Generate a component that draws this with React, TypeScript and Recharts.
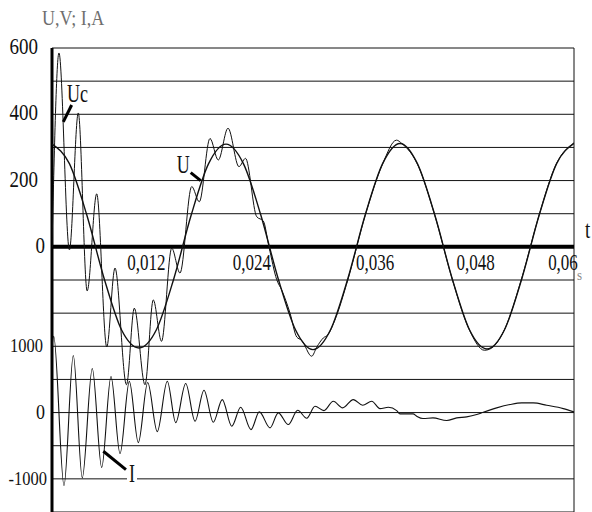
import React from 'react';
import {
  LineChart,
  Line,
  XAxis,
  YAxis,
  CartesianGrid,
  ReferenceLine,
  ReferenceDot,
} from 'recharts';

// axes
const X_GRID = [0, 0.006, 0.012, 0.018, 0.024, 0.03, 0.036, 0.042, 0.048, 0.054, 0.06];
const X_LABELS = [0.012, 0.024, 0.036, 0.048, 0.06];
const X_LABEL_TEXT = ['0,012', '0,024', '0,036', '0,048', '0,06'];
const X_LABEL_DX = [-10, -9, 10, 6, -11];

const V_DOMAIN = [-800, 600];
const V_GRID = [-800, -700, -600, -500, -400, -300, -200, -100, 0, 100, 200, 300, 400, 500, 600];
const V_LABELS = [0, 200, 400, 600];
const I_DOMAIN = [-1500, 5500];
const I_LABELS = [-1000, 0, 1000];

// source voltage U, V
const U_T = [
  0, 0.002, 0.004, 0.006, 0.008, 0.01, 0.012, 0.014, 0.016, 0.018, 0.02,
  0.022, 0.024, 0.026, 0.028, 0.03, 0.032, 0.034, 0.036, 0.038, 0.04,
  0.042, 0.044, 0.046, 0.048, 0.05, 0.052, 0.054, 0.056, 0.058, 0.06,
];
const U_V = [
  310, 251, 96, -96, -251, -305, -250, -96, 96, 251, 310,
  251, 96, -96, -251, -310, -251, -96, 96, 251, 312,
  251, 96, -96, -251, -308, -251, -96, 96, 251, 312,
];

// capacitor voltage Uc, V
const UC_T = [
  0, 0.0008, 0.002, 0.00302, 0.00404, 0.00514, 0.00629, 0.00724, 0.00856, 0.00946,
  0.01069, 0.01164, 0.01259, 0.01376, 0.01471, 0.01606, 0.01693, 0.01816, 0.01911, 0.02023,
  0.02149, 0.02224, 0.02353, 0.02429, 0.02494, 0.02583, 0.0264, 0.02736, 0.02813, 0.0287,
  0.02985, 0.03042, 0.03118, 0.03172, 0.0325, 0.034, 0.036, 0.038, 0.0396, 0.0402,
  0.042, 0.044, 0.046, 0.048, 0.0497, 0.0505, 0.052, 0.054, 0.056, 0.058, 0.06,
];
const UC_V = [
  0, 585, -9, 404, -133, 160, -302, -64, -416, -185,
  -416, -160, -285, -4, -79, 182, 136, 327, 262, 358,
  242, 267, 91, 78, 0, -99, -130, -200, -272, -282,
  -330, -303, -275, -265, -222, -100, 95, 250, 322, 312,
  250, 95, -97, -252, -312, -306, -250, -94, 97, 252, 314,
];

// current I, A
const I_T = [
  0, 0.0002, 0.00138, 0.00245, 0.00348, 0.00463, 0.00571, 0.00678, 0.00782, 0.00889,
  0.00992, 0.011, 0.0121, 0.01325, 0.01422, 0.01537, 0.01644, 0.01747, 0.01854, 0.01957,
  0.02066, 0.02169, 0.02287, 0.02383, 0.02506, 0.02601, 0.02716, 0.02824, 0.02928, 0.03023,
  0.03126, 0.03233, 0.03341, 0.03463, 0.03571, 0.03675, 0.0377, 0.03866, 0.03962, 0.04,
  0.0415, 0.04192, 0.04264, 0.04379, 0.04537, 0.04652, 0.04767, 0.04882, 0.04957, 0.05111,
  0.05264, 0.05399, 0.05532, 0.05686, 0.05877, 0.06,
];
const I_A = [
  1000, 1150, -1100, 860, -985, 665, -830, 545, -620, 470,
  -453, 453, -287, 473, -152, 438, -131, 337, -146, 196,
  -207, 80, -257, 10, -231, -5, -181, 35, -85, 95,
  30, 171, 71, 196, 110, 171, 60, 80, 30, -20,
  -20, -55, -90, -80, -120, -80, -65, -30, 5, 71,
  121, 146, 146, 110, 60, 10,
];

const uData = U_T.map((t, i) => ({ t, v: U_V[i] }));
const ucData = UC_T.map((t, i) => ({ t, v: UC_V[i] }));
const iData = I_T.map((t, i) => ({ t, a: I_A[i] }));

const FONT = '"Liberation Serif", "Times New Roman", serif';
const INK = '#111';
const AXIS_W = 52;

// both scales share one grid: value on the current scale at a voltage gridline
const vToI = (v: number) =>
  I_DOMAIN[0] + ((v - V_DOMAIN[0]) * (I_DOMAIN[1] - I_DOMAIN[0])) / (V_DOMAIN[1] - V_DOMAIN[0]);

function renderVTick(props: any) {
  const { y, payload } = props;
  const v = payload.value;
  let label: string | null = null;
  let end = AXIS_W - 7;
  let size = 19;
  if (V_LABELS.includes(v)) {
    label = String(v);
    if (v !== 0) end = AXIS_W - 14;
  } else {
    const a = Math.round(vToI(v));
    if (I_LABELS.includes(a)) {
      label = String(a);
      size = a === 0 ? 18 : 16.5;
    }
    if (a === -1000) end = AXIS_W - 5;
    if (a === 1000) end = AXIS_W - 9;
  }
  if (label === null) return <g key={`vt-${v}`} />;
  return (
    <text
      key={`vt-${v}`}
      transform={`translate(${end},${y + 6}) scale(1,1.2)`}
      textAnchor="end"
      fontFamily={FONT}
      fontSize={size}
      fill={INK}
    >
      {label}
    </text>
  );
}

const xLabelShape = (i: number) => (p: any) => (
  <text
    transform={`translate(${p.cx + X_LABEL_DX[i]},${p.cy + 23}) scale(1,1.4)`}
    textAnchor="middle"
    fontFamily={FONT}
    fontSize={17}
    fill={INK}
  >
    {X_LABEL_TEXT[i]}
  </text>
);

const noteShape = (text: string, boxed: boolean) => (p: any) => (
  <g>
    {boxed && <rect x={p.cx - 2} y={p.cy - 20} width={10} height={22} fill="#fff" />}
    <text
      transform={`translate(${p.cx},${p.cy}) scale(1,1.35)`}
      fontFamily={FONT}
      fontSize={18}
      fill={INK}
    >
      {text}
    </text>
  </g>
);

export default function App() {
  return (
    <div style={{ position: 'absolute', left: 0, top: 0, width: 592, height: 512, background: '#fff' }}>
      <LineChart width={592} height={512} margin={{ top: 48, right: 18, bottom: 0, left: 0 }}>
        <CartesianGrid yAxisId="v" stroke={INK} strokeWidth={1} fill="none" />
        <XAxis
          dataKey="t"
          type="number"
          domain={[0, 0.06]}
          ticks={X_GRID}
          allowDataOverflow
          height={0}
          tick={false}
          axisLine={false}
          tickLine={false}
        />
        <YAxis
          yAxisId="v"
          type="number"
          domain={V_DOMAIN}
          ticks={V_GRID}
          interval={0}
          allowDataOverflow
          width={AXIS_W}
          tickSize={0}
          tickMargin={0}
          tickLine={false}
          axisLine={false}
          tick={renderVTick}
        />
        <YAxis yAxisId="i" type="number" domain={I_DOMAIN} allowDataOverflow hide />

        <ReferenceLine yAxisId="v" y={0} stroke="#000" strokeWidth={4} />
        <ReferenceLine yAxisId="v" x={0} stroke="#000" strokeWidth={3} />

        <Line
          yAxisId="v"
          data={uData}
          dataKey="v"
          type="monotone"
          stroke={INK}
          strokeWidth={1.4}
          dot={false}
          isAnimationActive={false}
        />
        <Line
          yAxisId="v"
          data={ucData}
          dataKey="v"
          type="monotone"
          stroke={INK}
          strokeWidth={1}
          dot={false}
          isAnimationActive={false}
        />
        <Line
          yAxisId="i"
          data={iData}
          dataKey="a"
          type="monotone"
          stroke={INK}
          strokeWidth={1.1}
          dot={false}
          isAnimationActive={false}
        />

        {X_LABELS.map((t, i) => (
          <ReferenceDot key={t} yAxisId="v" x={t} y={0} r={0} ifOverflow="visible" shape={xLabelShape(i)} />
        ))}

        <ReferenceLine
          yAxisId="v"
          segment={[{ x: 0.0013, y: 377 }, { x: 0.00226, y: 428 }]}
          stroke="#000"
          strokeWidth={3}
        />
        <ReferenceDot yAxisId="v" x={0.00172} y={437} r={0} ifOverflow="visible" shape={noteShape('Uc', false)} />

        <ReferenceLine
          yAxisId="v"
          segment={[{ x: 0.01594, y: 224 }, { x: 0.01709, y: 200 }]}
          stroke="#000"
          strokeWidth={3}
        />
        <ReferenceDot yAxisId="v" x={0.01433} y={223} r={0} ifOverflow="visible" shape={noteShape('U', false)} />

        <ReferenceLine
          yAxisId="i"
          segment={[{ x: 0.0059, y: -584 }, { x: 0.0085, y: -861 }]}
          stroke="#000"
          strokeWidth={3}
        />
        <ReferenceDot yAxisId="i" x={0.00885} y={-1042} r={0} ifOverflow="visible" shape={noteShape('I', true)} />
      </LineChart>

      <svg width={592} height={512} style={{ position: 'absolute', left: 0, top: 0, pointerEvents: 'none' }}>
        <text transform="translate(42,25) scale(1,1.2)" fontFamily={FONT} fontSize={18} fill="#6e6e6e">
          U,V; I,A
        </text>
        <text transform="translate(585,238) scale(1,1.3)" fontFamily={FONT} fontSize={19} fill={INK}>
          t
        </text>
        <text transform="translate(577,280) scale(1,1.2)" fontFamily={FONT} fontSize={13} fill="#8a8a8a">
          s
        </text>
      </svg>
    </div>
  );
}
